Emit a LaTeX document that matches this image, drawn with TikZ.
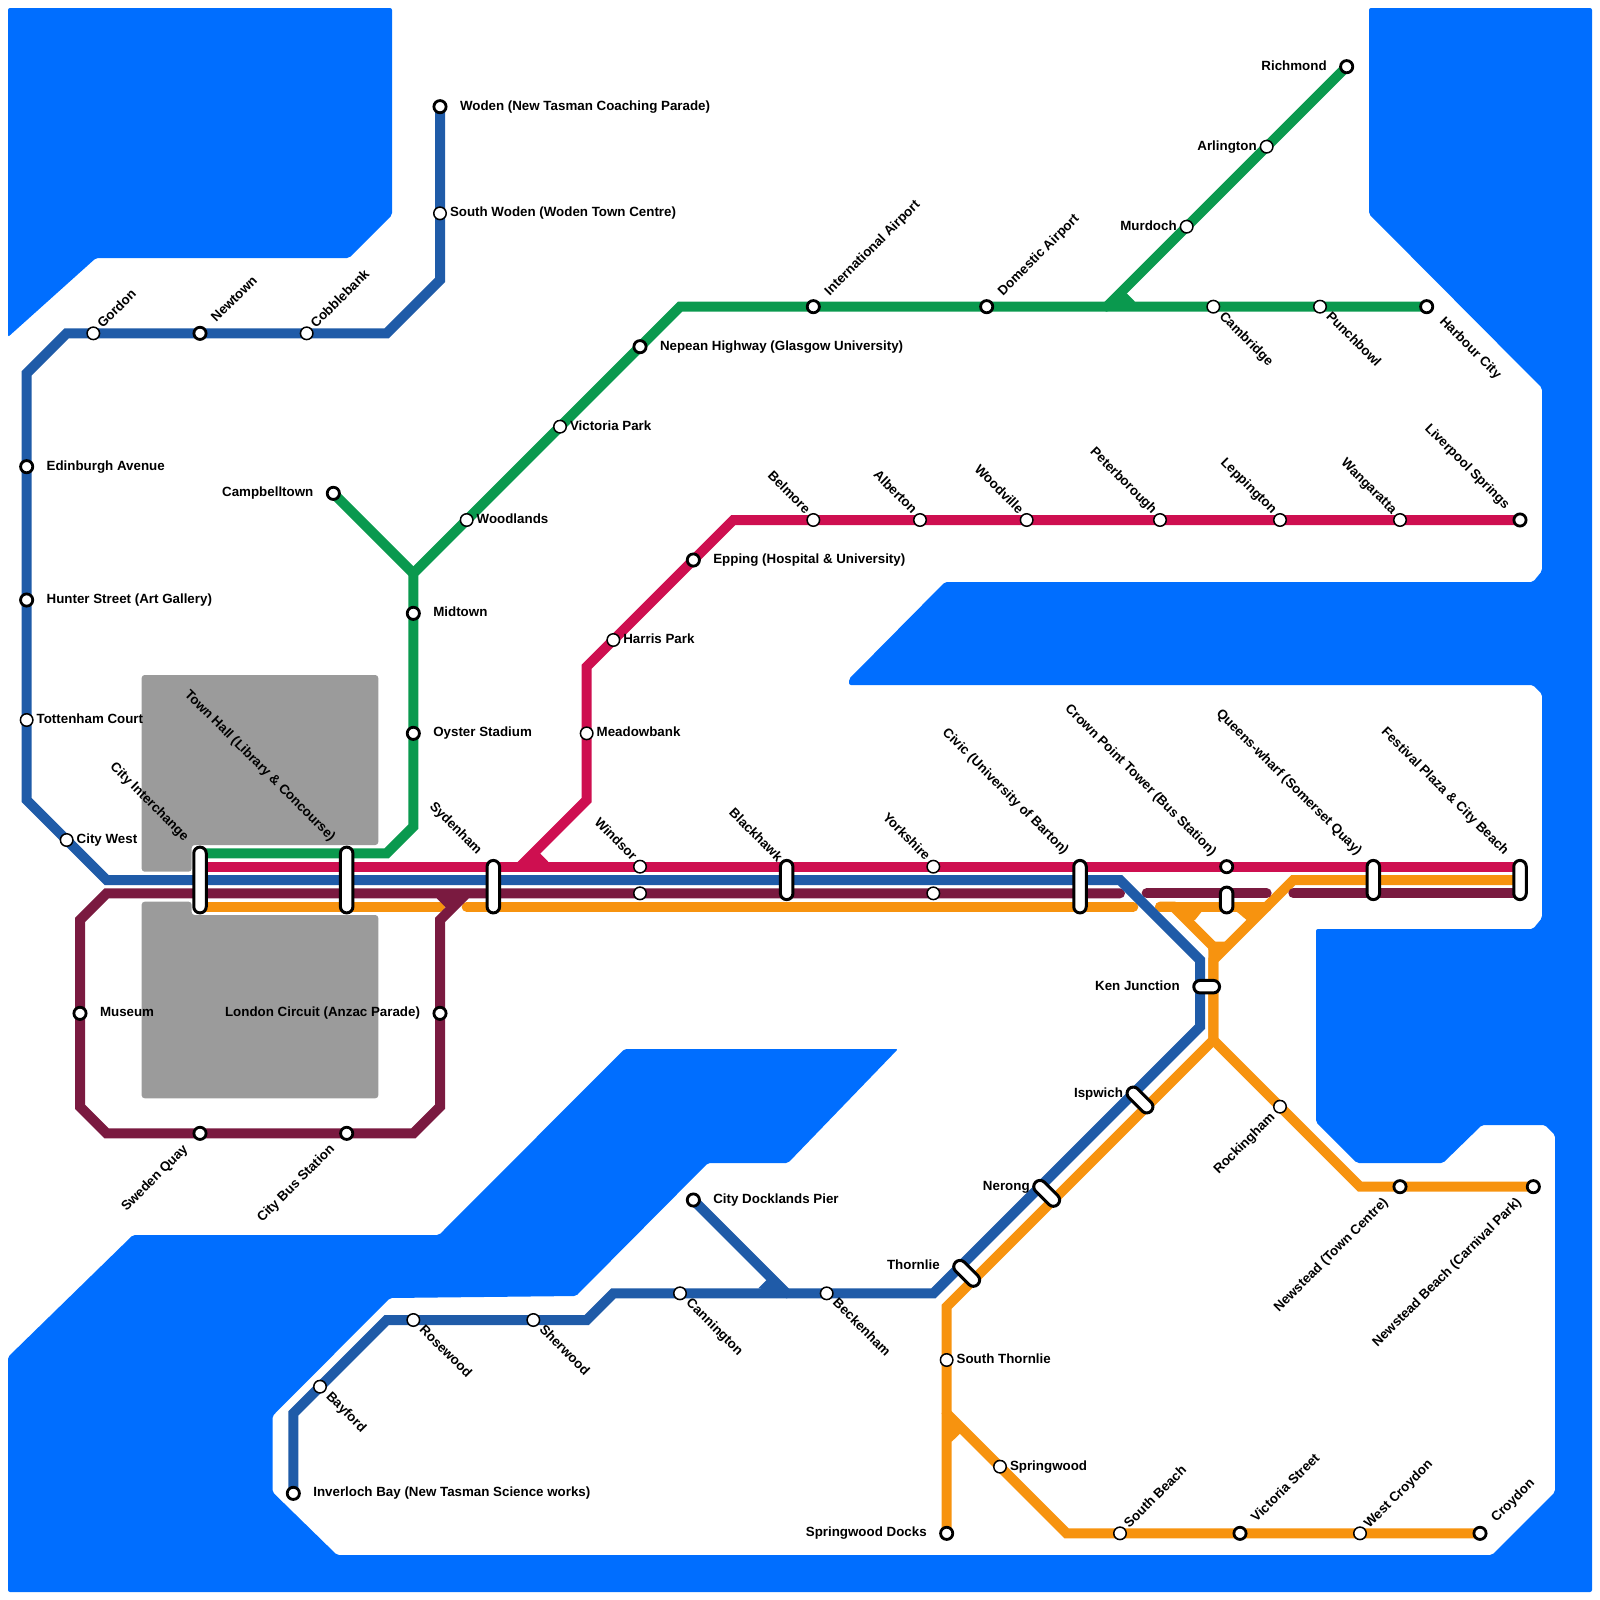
\documentclass[tikz,border=0pt]{standalone}
\usepackage{fontspec}
\setmainfont{Liberation Sans}
\pgfdeclarelayer{water}
\pgfdeclarelayer{lines}
\pgfsetlayers{water,lines,main}
\definecolor{waterc}{HTML}{006EFF}
\definecolor{greyc}{HTML}{9B9B9B}
\definecolor{greenl}{HTML}{0A994E}
\definecolor{crimsonl}{HTML}{CE0F50}
\definecolor{bluel}{HTML}{1F5BA8}
\definecolor{maroonl}{HTML}{7A1A40}
\definecolor{orangel}{HTML}{F7930F}
\tikzset{
  px/.style={x=0.5pt,y=-0.5pt},
  ln/.style={line width=5pt,line cap=round,line join=miter,miter limit=10},
  thinstop/.style={circle,draw=black,fill=white,line width=.75pt,inner sep=0,outer sep=0,minimum size=6.25pt},
  heavystop/.style={circle,draw=black,fill=white,line width=1.4pt,inner sep=0,outer sep=0,minimum size=6.1pt},
  capsule/.style={rectangle,draw=black,fill=white,line width=1.5pt,inner sep=0,outer sep=0,minimum width=6.25pt,minimum height=#1,rounded corners=3.1pt},
  lbl/.style={font=\bfseries\fontsize{6.67pt}{8pt}\selectfont,inner sep=0,outer sep=0,text height=4.8pt,text depth=1.33pt,text=black},
  shape water/.style={fill=waterc,rounded corners=1pt},
  shape grey/.style={fill=greyc,rounded corners=1.5pt}
}
% id, x, y
\newcommand{\Th}[3]{\node[thinstop] (#1) at (#2,#3) {};}
\newcommand{\Hv}[3]{\node[heavystop] (#1) at (#2,#3) {};}
% id, rotation, anchor, dx px, dy px, text
\newcommand{\Lb}[6]{\node[lbl,rotate=#2,anchor=#3] (#1-l) at ([shift={(#4*0.5pt,-#5*0.5pt)}]#1.center) {#6};}
\newcommand{\TE}[2]{\Lb{#1}{0}{west}{10}{0}{#2}}
\newcommand{\TW}[2]{\Lb{#1}{0}{east}{-10}{0}{#2}}
\newcommand{\HE}[2]{\Lb{#1}{0}{west}{20}{0}{#2}}
\newcommand{\HW}[2]{\Lb{#1}{0}{east}{-20}{0}{#2}}
\newcommand{\TNE}[2]{\Lb{#1}{45}{west}{7}{-7}{#2}}
\newcommand{\HNE}[2]{\Lb{#1}{45}{west}{14}{-13}{#2}}
\newcommand{\TSE}[2]{\Lb{#1}{-45}{west}{8}{8}{#2}}
\newcommand{\HSE}[2]{\Lb{#1}{-45}{west}{15}{13}{#2}}
\newcommand{\TNW}[2]{\Lb{#1}{-45}{east}{-6}{-8}{#2}}
\newcommand{\HNW}[2]{\Lb{#1}{-45}{east}{-13}{-13}{#2}}
\newcommand{\TSW}[2]{\Lb{#1}{45}{east}{-7}{9}{#2}}
\newcommand{\HSW}[2]{\Lb{#1}{45}{east}{-14}{14}{#2}}
\begin{document}
\begin{tikzpicture}[x=6.6667pt,y=-6.6667pt]
\useasboundingbox (0,0) rectangle (120,120);
\begin{pgfonlayer}{water}
\begin{scope}[px]
\fill[shape water] (8,8) -- (392,8) -- (392,215) -- (349,258) -- (96,258) -- (8,337) -- cycle;
\fill[shape water] (1369,8) -- (1592,8) -- (1592,1592) -- (8,1592) -- (8,1357) -- (133,1235) -- (439,1235) -- (624.5,1049) -- (898,1049) -- (788,1163) -- (708,1163) -- (576,1296) -- (390,1298) -- (272.5,1416) -- (272.5,1492) -- (337,1555) -- (1492,1555) -- (1555,1492) -- (1555,1135) -- (1545,1125) -- (1482,1125) -- (1443,1163) -- (1357,1163) -- (1316,1122) -- (1316,929) -- (1533,929) -- (1542,918) -- (1542,694) -- (1533,685) -- (849,685) -- (849,679) -- (945,582) -- (1533,582) -- (1542,571) -- (1542,388) -- (1369,214) -- cycle;
\fill[shape grey] (141.67,675) -- (378.3,675) -- (378.3,845) -- (191.67,845) -- (191.67,871.67) -- (141.67,871.67) -- cycle;
\fill[shape grey] (141.67,901.67) -- (191.67,901.67) -- (191.67,915) -- (378.3,915) -- (378.3,1098.3) -- (141.67,1098.3) -- cycle;
\end{scope}
\end{pgfonlayer}

% Blue stations
\Hv{woden}{33}{8} \Th{swoden}{33}{16} \Th{gordon}{7}{25} \Hv{newtown}{15}{25} \Th{cobble}{23}{25}
\Hv{edin}{2}{35} \Hv{hunter}{2}{45} \Th{totten}{2}{54} \Th{citywest}{5}{63}
\Hv{docklands}{52}{90} \Th{canning}{51}{97} \Th{beck}{62}{97} \Th{rose}{31}{99} \Th{sher}{40}{99}
\Th{bay}{24}{104} \Hv{inver}{22}{112}
% Green stations
\Hv{rich}{101}{5} \Th{arl}{95}{11} \Th{mur}{89}{17} \Hv{camp}{25}{37} \Th{woodl}{35}{39} \Th{vicp}{42}{32}
\Hv{nep}{48}{26} \Hv{intl}{61}{23} \Hv{dom}{74}{23} \Th{camb}{91}{23} \Th{punch}{99}{23} \Hv{harb}{107}{23}
\Hv{mid}{31}{46} \Hv{oyster}{31}{55}
% Crimson stations
\Hv{lvp}{114}{39} \Th{wang}{105}{39} \Th{lepp}{96}{39} \Th{pete}{87}{39} \Th{woodv}{77}{39} \Th{alb}{69}{39} \Th{bel}{61}{39}
\Hv{epp}{52}{42} \Th{harris}{46}{48} \Th{mead}{44}{55}
\Th{windc}{48}{65} \Th{windm}{48}{67} \Th{yorkc}{70}{65} \Th{yorkm}{70}{67} \Hv{crown}{92}{65}
% Maroon stations
\Hv{mus}{6}{76} \Hv{lond}{33}{76} \Hv{swe}{15}{85} \Hv{cbus}{26}{85}
% Orange stations
\Th{rock}{96}{83} \Hv{newt}{105}{89} \Hv{newb}{115}{89} \Th{sth}{71}{102} \Hv{sdocks}{71}{115}
\Th{spring}{75}{110} \Th{sbeach}{84}{115} \Hv{vics}{93}{115} \Th{wcroy}{102}{115} \Hv{croy}{111}{115}
% Interchanges
\node[capsule=32.9pt] (cint) at (15,66) {};
\node[capsule=32.9pt] (town) at (26,66) {};
\node[capsule=26.25pt] (syd) at (37,66.5) {};
\node[capsule=19.6pt] (black) at (59,66) {};
\node[capsule=26.25pt] (civic) at (81,66.5) {};
\node[capsule=12.9pt] (crownb) at (92,67.5) {};
\node[capsule=19.6pt] (queens) at (103,66) {};
\node[capsule=19.6pt] (fest) at (114,66) {};
\node[capsule=12.9pt,rotate=90] (ken) at (90.5,74) {};
\node[capsule=15.7pt,rotate=45] (isp) at (85.5,82.5) {};
\node[capsule=15.7pt,rotate=45] (ner) at (78.5,89.5) {};
\node[capsule=15.7pt,rotate=45] (thor) at (72.5,95.5) {};

% Labels
\HE{woden}{Woden (New Tasman Coaching Parade)}
\TE{swoden}{South Woden (Woden Town Centre)}
\TNE{gordon}{Gordon} \HNE{newtown}{Newtown} \TNE{cobble}{Cobblebank}
\HE{edin}{Edinburgh Avenue} \HE{hunter}{Hunter Street (Art Gallery)}
\TE{totten}{Tottenham Court} \TE{citywest}{City West}
\HE{docklands}{City Docklands Pier}
\TSE{canning}{Cannington} \TSE{beck}{Beckenham} \TSE{rose}{Rosewood} \TSE{sher}{Sherwood} \TSE{bay}{Bayford}
\HE{inver}{Inverloch Bay (New Tasman Science works)}
\HW{rich}{Richmond} \TW{arl}{Arlington} \TW{mur}{Murdoch} \HW{camp}{Campbelltown}
\TE{woodl}{Woodlands} \TE{vicp}{Victoria Park} \HE{nep}{Nepean Highway (Glasgow University)}
\HNE{intl}{International Airport} \HNE{dom}{Domestic Airport}
\TSE{camb}{Cambridge} \TSE{punch}{Punchbowl} \HSE{harb}{Harbour City}
\HE{mid}{Midtown} \HE{oyster}{Oyster Stadium}
\HNW{lvp}{Liverpool Springs} \TNW{wang}{Wangaratta} \TNW{lepp}{Leppington} \TNW{pete}{Peterborough}
\TNW{woodv}{Woodville} \TNW{alb}{Alberton} \TNW{bel}{Belmore}
\HE{epp}{Epping (Hospital \& University)} \TE{harris}{Harris Park} \TE{mead}{Meadowbank}
\TNW{windc}{Windsor} \TNW{yorkc}{Yorkshire} \HNW{crown}{Crown Point Tower (Bus Station)}
\HE{mus}{Museum} \HW{lond}{London Circuit (Anzac Parade)} \HSW{swe}{Sweden Quay} \HSW{cbus}{City Bus Station}
\TSW{rock}{Rockingham} \HSW{newt}{Newstead (Town Centre)} \HSW{newb}{Newstead Beach (Carnival Park)}
\TE{sth}{South Thornlie} \HW{sdocks}{Springwood Docks} \TE{spring}{Springwood}
\TNE{sbeach}{South Beach} \HNE{vics}{Victoria Street} \TNE{wcroy}{West Croydon} \HNE{croy}{Croydon}
\Lb{cint}{-45}{east}{-14}{-41}{City Interchange}
\Lb{town}{-45}{east}{-14}{-41}{Town Hall (Library \& Concourse)}
\Lb{syd}{-45}{east}{-14}{-34}{Sydenham}
\Lb{black}{-45}{east}{-7}{-20}{Blackhawk}
\Lb{civic}{-45}{east}{-14}{-34}{Civic (University of Barton)}
\Lb{queens}{-45}{east}{-14}{-27}{Queens-wharf (Somerset Quay)}
\Lb{fest}{-45}{east}{-14}{-27}{Festival Plaza \& City Beach}
\Lb{ken}{0}{east}{-27}{0}{Ken Junction}
\Lb{isp}{0}{east}{-17}{-6}{Ispwich}
\Lb{ner}{0}{east}{-17}{-6}{Nerong}
\Lb{thor}{0}{east}{-27}{-7}{Thornlie}

% Way-points
\coordinate (b1) at (33,21); \coordinate (b2) at (29,25); \coordinate (b3) at (5,25); \coordinate (b4) at (2,28);
\coordinate (b5) at (2,60); \coordinate (b6) at (8,66); \coordinate (b7) at (84,66); \coordinate (b8) at (90,72);
\coordinate (b9) at (90,77); \coordinate (b10) at (70,97); \coordinate (b11) at (46,97); \coordinate (b12) at (44,99);
\coordinate (b13) at (29,99); \coordinate (b14) at (22,106); \coordinate (b15) at (59,97);
\coordinate (g1) at (31,43); \coordinate (g2) at (15,64); \coordinate (g3) at (29,64); \coordinate (g4) at (31,62);
\coordinate (g5) at (51,23); \coordinate (g6) at (83,23);
\coordinate (c1) at (15,65); \coordinate (c2) at (114,65); \coordinate (c3) at (39,65); \coordinate (c4) at (44,60);
\coordinate (c5) at (44,50); \coordinate (c6) at (55,39);
\coordinate (m1) at (84,67); \coordinate (m2) at (8,67); \coordinate (m3) at (6,69); \coordinate (m4) at (6,83);
\coordinate (m5) at (8,85); \coordinate (m6) at (31,85); \coordinate (m7) at (33,83); \coordinate (m8) at (33,69);
\coordinate (m9) at (35,67); \coordinate (m10) at (86,67); \coordinate (m11) at (95,67); \coordinate (m12) at (97,67); \coordinate (m13) at (114,67);
\coordinate (o1) at (15,68); \coordinate (o2) at (33,68); \coordinate (o3) at (35,68); \coordinate (o4) at (85,68);
\coordinate (o5) at (87,68); \coordinate (o6) at (88,68); \coordinate (o7) at (91,71); \coordinate (o8) at (91,78);
\coordinate (o9) at (71,98); \coordinate (o10) at (95,68); \coordinate (o11) at (114,66); \coordinate (o12) at (97,66);
\coordinate (o13) at (91,72); \coordinate (o14) at (102,89); \coordinate (o15) at (71,106); \coordinate (o16) at (80,115);

\begin{pgfonlayer}{lines}
% Orange
\draw[ln,orangel] (o1) -- (o2);
\draw[ln,orangel] (o3) -- (o4);
\draw[ln,orangel] (o5) -- (o10);
\draw[ln,orangel] (o5) -- (o6) -- (o7) -- (o8) -- (o9) -- (sdocks.center);
\draw[ln,orangel] (o11) -- (o12) -- (o13) -- (o8);
\draw[ln,orangel] (o8) -- (o14) -- (newb.center);
\draw[ln,orangel] (o15) -- (o16) -- (croy.center);
\begin{scope}[px]
\fill[orangel] (1175,905) -- (1205,905) -- (1201.7,911.67) -- (1195,920) -- (1188,920) -- cycle;
\fill[orangel] (1236.7,911.67) -- (1246.7,920) -- (1252,922) -- (1262,905) -- (1230,905) -- cycle;
\fill[orangel] (1208.3,950) -- (1208.3,945) -- (1215,941.67) -- (1225,941.67) -- (1220,950) -- cycle;
\fill[orangel] (945,1435) -- (951.7,1441.7) -- (960,1433.7) -- (965,1428) -- (950,1415) -- cycle;
\end{scope}
% Maroon
\draw[ln,maroonl] (m1) -- (m2) -- (m3) -- (m4) -- (m5) -- (m6) -- (m7) -- (m8) -- (m9);
\draw[ln,maroonl] (m10) -- (m11);
\draw[ln,maroonl] (m12) -- (m13);
\begin{scope}[px]
\fill[maroonl] (436.7,898.3) -- (446.7,908.3) -- (458,895) -- cycle;
\end{scope}
% Crimson
\draw[ln,crimsonl] (c1) -- (c2);
\draw[ln,crimsonl] (c3) -- (c4) -- (c5) -- (c6) -- (lvp.center);
\begin{scope}[px]
\fill[crimsonl] (540,853.3) -- (548.3,861.67) -- (523,865) -- cycle;
\end{scope}
% Green
\draw[ln,greenl] (camp.center) -- (g1);
\draw[ln,greenl] (g2) -- (g3) -- (g4) -- (g1) -- (g5) -- (harb.center);
\draw[ln,greenl] (g6) -- (rich.center);
\begin{scope}[px]
\fill[greenl] (1126.7,293.3) -- (1135,301.67) -- (1110,305) -- cycle;
\end{scope}
% Blue
\draw[ln,bluel] (woden.center) -- (b1) -- (b2) -- (b3) -- (b4) -- (b5) -- (b6) -- (b7) -- (b8) -- (b9) -- (b10) -- (b11) -- (b12) -- (b13) -- (b14) -- (inver.center);
\draw[ln,bluel] (docklands.center) -- (b15);
\begin{scope}[px]
\fill[bluel] (758.3,1288.3) -- (766.67,1280) -- (783,1292) -- cycle;
\end{scope}
\end{pgfonlayer}
\end{tikzpicture}
\end{document}
